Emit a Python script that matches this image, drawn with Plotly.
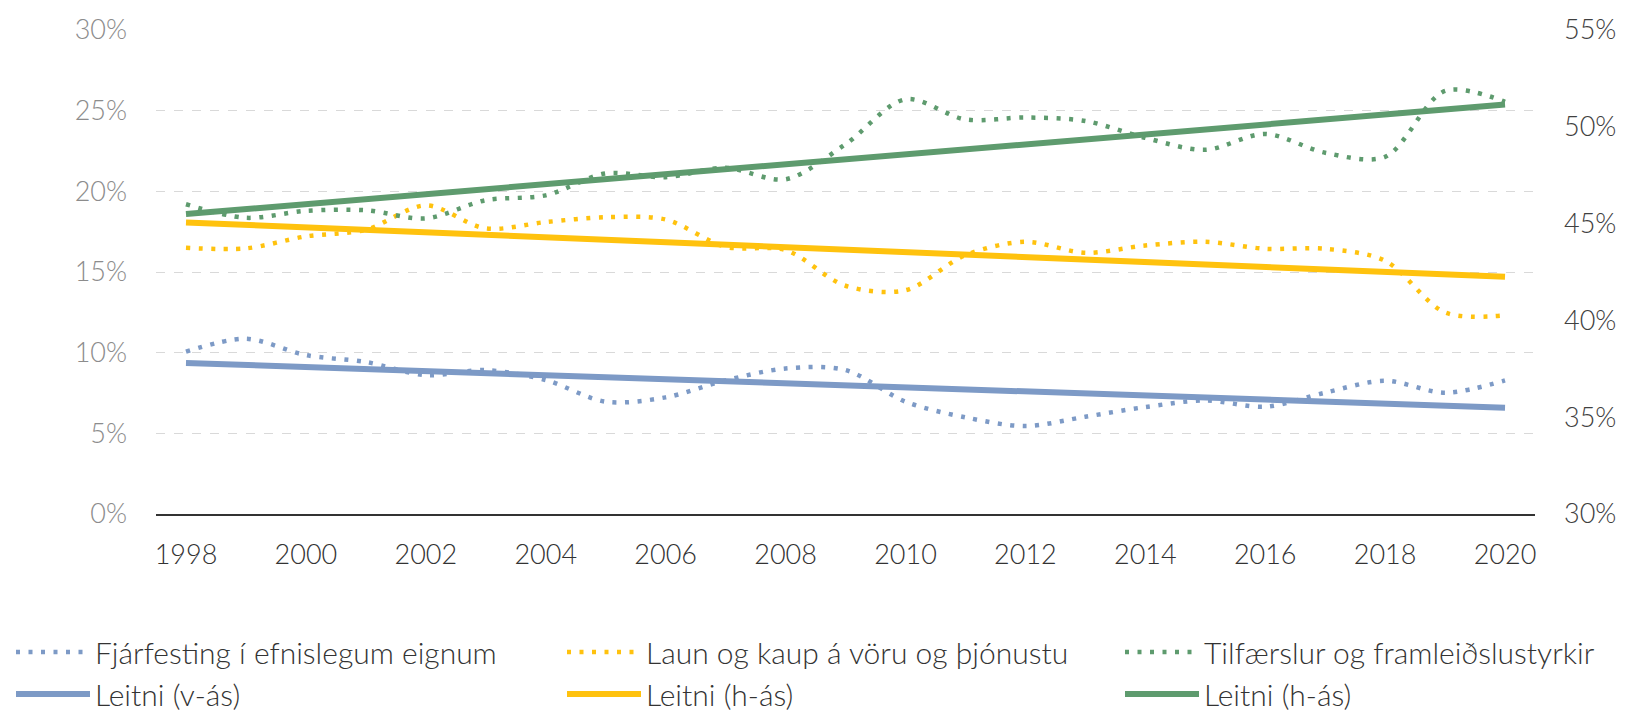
import plotly.graph_objects as go

years = list(range(1998, 2021))

# Left axis (v-ás), percent
fjarfesting = [10.06, 10.86, 9.85, 9.42, 8.61, 8.92, 8.30, 6.96, 7.23, 8.28, 9.02, 8.92,
               6.96, 5.99, 5.45, 6.03, 6.63, 7.04, 6.65, 7.52, 8.26, 7.52, 8.28]
# Right axis (h-ás), percent
laun = [43.75, 43.72, 44.34, 44.68, 45.94, 44.75, 45.08, 45.33, 45.21, 43.80, 43.63, 41.79,
        41.56, 43.37, 44.06, 43.49, 43.87, 44.06, 43.70, 43.70, 43.08, 40.41, 40.26]
tilfaerslur = [46.00, 45.30, 45.66, 45.69, 45.27, 46.21, 46.46, 47.59, 47.40, 47.88, 47.29, 49.10,
               51.42, 50.38, 50.48, 50.30, 49.43, 48.81, 49.63, 48.66, 48.45, 51.85, 51.29]

trend_years = [1998, 2020]
trend_blue = [9.36, 6.59]
trend_yellow = [45.06, 42.25]
trend_green = [45.49, 51.15]

names_dot = ["Fjárfesting í efnislegum eignum", "Laun og kaup á vöru og þjónustu",
             "Tilfærslur og framleiðslustyrkir"]
names_trend = ["Leitni (v-ás)", "Leitni (h-ás)", "Leitni (h-ás)"]

x_ticks = list(range(1998, 2021, 2))
y_left_ticks = [0, 5, 10, 15, 20, 25, 30]
y_right_ticks = [30, 35, 40, 45, 50, 55]

BLUE = "#7d9ac6"
YELLOW = "#ffc20e"
GREEN = "#5e9b6e"
FONT = "Lato"

fig = go.Figure()

dot_dash = "4px,8.5px"
# trend lines (drawn first)
fig.add_trace(go.Scatter(x=trend_years, y=trend_blue, mode="lines", name=names_trend[0],
                         line=dict(color=BLUE, width=6), yaxis="y", legend="legend", legendrank=2,
                         hoverinfo="skip"))
fig.add_trace(go.Scatter(x=trend_years, y=trend_yellow, mode="lines", name=names_trend[1],
                         line=dict(color=YELLOW, width=6), yaxis="y2", legend="legend2", legendrank=2,
                         hoverinfo="skip"))
fig.add_trace(go.Scatter(x=trend_years, y=trend_green, mode="lines", name=names_trend[2],
                         line=dict(color=GREEN, width=6), yaxis="y2", legend="legend3", legendrank=2,
                         hoverinfo="skip"))
# dotted series
fig.add_trace(go.Scatter(x=years, y=fjarfesting, mode="lines", name=names_dot[0],
                         line=dict(color=BLUE, width=4.5, dash=dot_dash, shape="spline", smoothing=0.9),
                         yaxis="y", legend="legend", legendrank=1))
fig.add_trace(go.Scatter(x=years, y=laun, mode="lines", name=names_dot[1],
                         line=dict(color=YELLOW, width=4.5, dash=dot_dash, shape="spline", smoothing=0.9),
                         yaxis="y2", legend="legend2", legendrank=1))
fig.add_trace(go.Scatter(x=years, y=tilfaerslur, mode="lines", name=names_dot[2],
                         line=dict(color=GREEN, width=4.5, dash=dot_dash, shape="spline", smoothing=0.9),
                         yaxis="y2", legend="legend3", legendrank=1))

legend_font = dict(family=FONT, size=30, color="#333333", weight=300)
def legend_cfg(xpx):
    return dict(orientation="v", xref="container", yref="container",
                x=xpx / 1627, xanchor="left", y=1 - 626 / 713, yanchor="top",
                itemwidth=74, font=legend_font, tracegroupgap=0,
                bgcolor="rgba(0,0,0,0)", borderwidth=0)

fig.update_layout(
    width=1627, height=713,
    margin=dict(l=156, r=92, t=30, b=199, autoexpand=False),
    paper_bgcolor="white", plot_bgcolor="white",
    font=dict(family=FONT, size=26, color="#333333", weight=300),
    showlegend=True,
    legend=legend_cfg(11),
    legend2=legend_cfg(562),
    legend3=legend_cfg(1120),
    xaxis=dict(range=[1997.5, 2020.5], tickvals=x_ticks, ticktext=[str(v) for v in x_ticks],
               showgrid=False, zeroline=False, showline=True, linecolor="#333333", linewidth=1.5,
               ticks="", tickfont=dict(family=FONT, size=27, color="#333333", weight=300),
               ticklabelstandoff=16),
    yaxis=dict(range=[0, 30], tickvals=y_left_ticks, ticktext=[f"{v}%" for v in y_left_ticks],
               showgrid=True, gridcolor="#d9d9d9", griddash="dash", gridwidth=1,
               zeroline=False, showline=False, ticks="",
               tickfont=dict(family=FONT, size=27, color="#8c8c8c", weight=300),
               ticklabelstandoff=28),
    yaxis2=dict(range=[30, 55], tickvals=y_right_ticks, ticktext=[f"{v}%" for v in y_right_ticks],
                overlaying="y", side="right",
                showgrid=False, zeroline=False, showline=False, ticks="",
                tickfont=dict(family=FONT, size=27, color="#404040", weight=300),
                ticklabelstandoff=28),
)

fig.write_html("out.html", config={"displayModeBar": False},
               post_script="document.body.style.margin='0px';document.body.style.overflow='hidden';")
